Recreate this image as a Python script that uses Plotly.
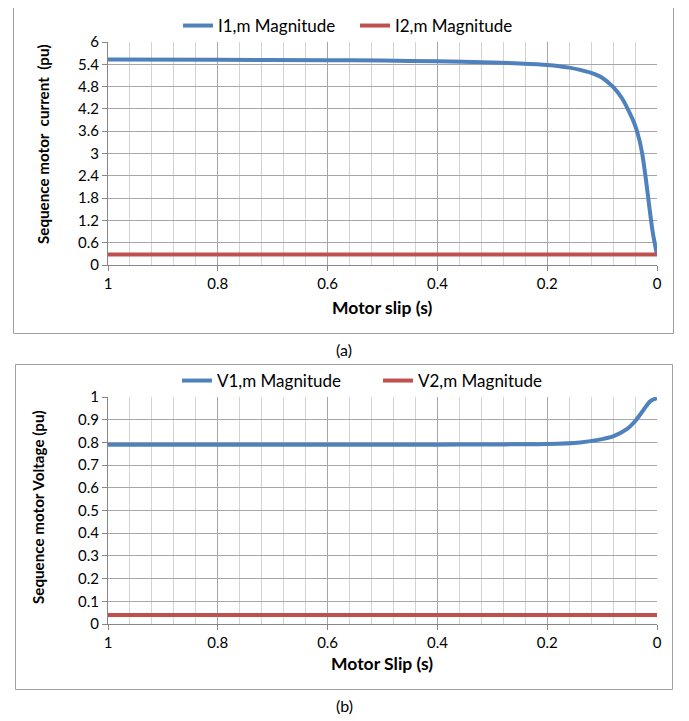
import plotly.graph_objects as go

# page body has an 8px margin; figure is sized to fit the 689x721 window
OFF = 8
W, H = 689 - OFF, 721 - OFF

# ---- data (a) ----
slip_a = [1, 0.8, 0.6, 0.5, 0.4, 0.3, 0.25, 0.2, 0.178, 0.16, 0.14, 0.12, 0.1, 0.08,
          0.0635, 0.052, 0.04, 0.032, 0.026, 0.02, 0.014, 0.008, 0]
i1_mag = [5.53, 5.52, 5.51, 5.50, 5.48, 5.45, 5.42, 5.38, 5.35, 5.31, 5.25, 5.17, 5.04, 4.79,
          4.48, 4.16, 3.76, 3.36, 2.91, 2.28, 1.57, 0.90, 0.27]
i2_mag = [0.28] * len(slip_a)

# ---- data (b) ----
slip_b = [1, 0.8, 0.6, 0.4, 0.3, 0.2, 0.14, 0.11, 0.079, 0.055, 0.04, 0.024, 0.012, 0]
v1_mag = [0.79, 0.79, 0.79, 0.79, 0.791, 0.793, 0.80, 0.81, 0.828, 0.858, 0.893, 0.945, 0.982, 0.995]
v2_mag = [0.04] * len(slip_b)

x_ticks = [1, 0.8, 0.6, 0.4, 0.2, 0]
x_ticktext = ["1", "0.8", "0.6", "0.4", "0.2", "0"]
x_minor = [round(0.04 * k, 2) for k in range(26)]
ya_ticks = [0, 0.6, 1.2, 1.8, 2.4, 3, 3.6, 4.2, 4.8, 5.4, 6]
ya_ticktext = ["0", "0.6", "1.2", "1.8", "2.4", "3", "3.6", "4.2", "4.8", "5.4", "6"]
yb_ticks = [0, 0.1, 0.2, 0.3, 0.4, 0.5, 0.6, 0.7, 0.8, 0.9, 1]
yb_ticktext = ["0", "0.1", "0.2", "0.3", "0.4", "0.5", "0.6", "0.7", "0.8", "0.9", "1"]

BLUE = "#4F81BD"
RED = "#C0504D"
FONT = "Lato"
GRID = "#a6a6a6"
MINOR = "#d3d3d3"
AXIS = "#868686"

def px_x(x):
    return (x - OFF) / W

def px_y(y):
    return 1 - (y - OFF) / H

fig = go.Figure()
fig.add_trace(go.Scatter(x=slip_a, y=i1_mag, name="I1,m Magnitude", mode="lines",
                         line=dict(color=BLUE, width=4, shape="spline", smoothing=0.8),
                         xaxis="x", yaxis="y", legend="legend"))
fig.add_trace(go.Scatter(x=slip_a, y=i2_mag, name="I2,m Magnitude", mode="lines",
                         line=dict(color=RED, width=4),
                         xaxis="x", yaxis="y", legend="legend"))
fig.add_trace(go.Scatter(x=slip_b, y=v1_mag, name="V1,m Magnitude", mode="lines",
                         line=dict(color=BLUE, width=4, shape="spline", smoothing=0.8),
                         xaxis="x2", yaxis="y2", legend="legend2"))
fig.add_trace(go.Scatter(x=slip_b, y=v2_mag, name="V2,m Magnitude", mode="lines",
                         line=dict(color=RED, width=4),
                         xaxis="x2", yaxis="y2", legend="legend2"))

xdom = [px_x(108), px_x(657)]

def xaxis_cfg(anchor):
    return dict(domain=xdom, anchor=anchor, range=[1, 0], tickmode="array",
                tickvals=x_ticks, ticktext=x_ticktext,
                showgrid=True, gridcolor=GRID, gridwidth=1,
                minor=dict(tickmode="array", tickvals=x_minor, showgrid=True,
                           gridcolor=MINOR, gridwidth=1, ticks=""),
                showline=True, linecolor=AXIS, linewidth=1,
                ticks="outside", ticklen=5, tickcolor=AXIS,
                tickfont=dict(family=FONT, size=15, color="#000"),
                zeroline=False, fixedrange=True, automargin=False, layer="below traces")

def yaxis_cfg(anchor, dom, rng, tv, tt):
    return dict(domain=dom, anchor=anchor, range=rng, tickmode="array", tickvals=tv, ticktext=tt,
                showgrid=True, gridcolor=GRID, gridwidth=1,
                showline=True, linecolor=AXIS, linewidth=1,
                ticks="outside", ticklen=5, tickcolor=AXIS,
                tickfont=dict(family=FONT, size=15, color="#000"),
                zeroline=False, fixedrange=True, automargin=False)

shapes = [
    dict(type="rect", xref="paper", yref="paper", x0=px_x(13.5), x1=px_x(673.5),
         y0=px_y(333.5), y1=px_y(3.5), line=dict(color="#a0a0a0", width=1), layer="below"),
    dict(type="rect", xref="paper", yref="paper", x0=px_x(15.5), x1=px_x(672.5),
         y0=px_y(689.5), y1=px_y(364.5), line=dict(color="#a0a0a0", width=1), layer="below"),
]

ann = [
    dict(text="<b>Motor slip (s)</b>", x=px_x(382), y=px_y(307), xref="paper", yref="paper",
         showarrow=False, font=dict(family=FONT, size=17.5, color="#000"), xanchor="center", yanchor="middle"),
    dict(text="<b>Motor Slip (s)</b>", x=px_x(382), y=px_y(663), xref="paper", yref="paper",
         showarrow=False, font=dict(family=FONT, size=17.5, color="#000"), xanchor="center", yanchor="middle"),
    dict(text="<b>Sequence motor\u00a0 current\u00a0 (pu)</b>", x=px_x(43), y=px_y(144), xref="paper", yref="paper",
         showarrow=False, textangle=-90, font=dict(family=FONT, size=15.2, color="#000"),
         xanchor="center", yanchor="middle"),
    dict(text="<b>Sequence motor Voltage (pu)</b>", x=px_x(38), y=px_y(507), xref="paper", yref="paper",
         showarrow=False, textangle=-90, font=dict(family=FONT, size=15.2, color="#000"),
         xanchor="center", yanchor="middle"),
    dict(text="(a)", x=px_x(344), y=px_y(350), xref="paper", yref="paper",
         showarrow=False, font=dict(family=FONT, size=16, color="#000"), xanchor="center", yanchor="middle"),
    dict(text="(b)", x=px_x(344), y=px_y(705), xref="paper", yref="paper",
         showarrow=False, font=dict(family=FONT, size=16, color="#000"), xanchor="center", yanchor="middle"),
]

fig.update_layout(
    width=W, height=H,
    margin=dict(l=0, r=0, t=0, b=0, autoexpand=False),
    paper_bgcolor="white", plot_bgcolor="white",
    xaxis=xaxis_cfg("y"),
    yaxis=yaxis_cfg("x", [px_y(265), px_y(42)], [0, 6], ya_ticks, ya_ticktext),
    xaxis2=xaxis_cfg("y2"),
    yaxis2=yaxis_cfg("x2", [px_y(624), px_y(397)], [0, 1], yb_ticks, yb_ticktext),
    legend=dict(orientation="h", x=px_x(178), y=1.0, xanchor="left", yanchor="top",
                entrywidth=132, entrywidthmode="pixels", bgcolor="rgba(0,0,0,0)",
                font=dict(family=FONT, size=17, color="#000")),
    legend2=dict(orientation="h", x=px_x(177), y=px_y(381), xanchor="left", yanchor="middle",
                 entrywidth=156, entrywidthmode="pixels", bgcolor="rgba(0,0,0,0)",
                 font=dict(family=FONT, size=17, color="#000")),
    shapes=shapes,
    annotations=ann,
    showlegend=True,
)

fig.write_html("out.html")
